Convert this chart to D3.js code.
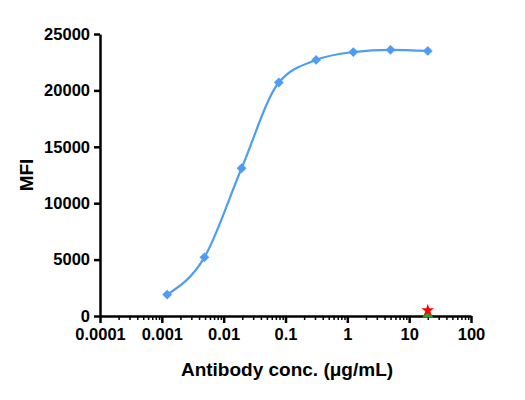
<!DOCTYPE html>
<html>
<head>
<meta charset="utf-8">
<script src="https://cdn.jsdelivr.net/npm/d3@7"></script>
<style>
  body { margin: 0; background: #fff; }
  svg text { font-family: "Liberation Sans", Arial, sans-serif; font-weight: bold; }
</style>
</head>
<body>
<div id="chart"></div>
<script>
// data
const conc = [0.00122, 0.00488, 0.0195, 0.078, 0.3125, 1.25, 5, 20];
const mfi = [1900, 5200, 13100, 20700, 22700, 23400, 23600, 23500];
const controlConc = [20];
const controlStar = [500];
const controlTriangle = [150];
const xTicks = [0.0001, 0.001, 0.01, 0.1, 1, 10, 100];
const xTickLabels = ['0.0001', '0.001', '0.01', '0.1', '1', '10', '100'];
const yTicks = [0, 5000, 10000, 15000, 20000, 25000];

// layout
let width = 525;
let height = 400;
let plotLeft = 100, plotRight = 471, plotTop = 34, plotBottom = 316;
let blue = '#4e9df5';

const svg = d3.select('#chart').append('svg')
  .attr('width', width)
  .attr('height', height);

const x = d3.scaleLog().domain([0.0001, 100]).range([plotLeft, plotRight]);
const y = d3.scaleLinear().domain([0, 25000]).range([plotBottom, plotTop]);

// minor ticks on x
let minor = [];
for (let e = -4; e < 2; e++) {
  for (let m = 2; m <= 9; m++) minor.push(m * Math.pow(10, e));
}

svg.append('g')
  .attr('transform', `translate(0, ${plotBottom})`)
  .call(d3.axisBottom(x).tickValues(minor).tickSize(4).tickFormat(''))
  .call(g => g.select('.domain').remove())
  .call(g => g.selectAll('line').attr('stroke', '#000').attr('stroke-width', 1.5));

const xAxis = svg.append('g')
  .attr('transform', `translate(0, ${plotBottom})`)
  .call(d3.axisBottom(x).tickValues(xTicks).tickSize(7).tickSizeOuter(0)
    .tickFormat((d, i) => xTickLabels[i]).tickPadding(5));
xAxis.select('.domain').attr('stroke-width', 2.5);
xAxis.selectAll('line').attr('stroke-width', 2.5);
xAxis.selectAll('text').attr('font-size', 16.5).attr('fill', '#000');

const yAxis = svg.append('g')
  .attr('transform', `translate(${plotLeft}, 0)`)
  .call(d3.axisLeft(y).tickValues(yTicks).tickSize(6).tickSizeOuter(0)
    .tickFormat(d3.format('d')).tickPadding(4));
yAxis.select('.domain').attr('stroke-width', 2.5);
yAxis.selectAll('line').attr('stroke-width', 2.5);
yAxis.selectAll('text').attr('font-size', 16.5).attr('fill', '#000');

// axis titles
svg.append('text')
  .attr('x', 287)
  .attr('y', 376)
  .attr('text-anchor', 'middle')
  .attr('font-size', 19)
  .text('Antibody conc. (μg/mL)');

svg.append('text')
  .attr('transform', `translate(33, ${(plotTop + plotBottom) / 2}) rotate(-90)`)
  .attr('text-anchor', 'middle')
  .attr('font-size', 19)
  .text('MFI');

// curve
const pts = conc.map((c, i) => [c, mfi[i]]);
const line = d3.line()
  .x(d => x(d[0]))
  .y(d => y(d[1]))
  .curve(d3.curveMonotoneX);

svg.append('path')
  .datum(pts)
  .attr('d', line)
  .attr('fill', 'none')
  .attr('stroke', blue)
  .attr('stroke-width', 2.2);

svg.append('g')
  .selectAll('path')
  .data(pts)
  .enter()
  .append('path')
  .attr('d', d3.symbol().type(d3.symbolSquare).size(48))
  .attr('transform', d => `translate(${x(d[0])}, ${y(d[1])}) rotate(45)`)
  .attr('fill', blue);

// controls
svg.append('g')
  .selectAll('path')
  .data(controlConc.map((c, i) => [c, controlTriangle[i]]))
  .enter()
  .append('path')
  .attr('d', d3.symbol().type(d3.symbolTriangle).size(50))
  .attr('transform', d => `translate(${x(d[0])}, ${y(d[1])})`)
  .attr('fill', '#2ca02c');

svg.append('g')
  .selectAll('path')
  .data(controlConc.map((c, i) => [c, controlStar[i]]))
  .enter()
  .append('path')
  .attr('d', d3.symbol().type(d3.symbolStar).size(50))
  .attr('transform', d => `translate(${x(d[0])}, ${y(d[1])})`)
  .attr('fill', '#ff0000');
</script>
</body>
</html>
